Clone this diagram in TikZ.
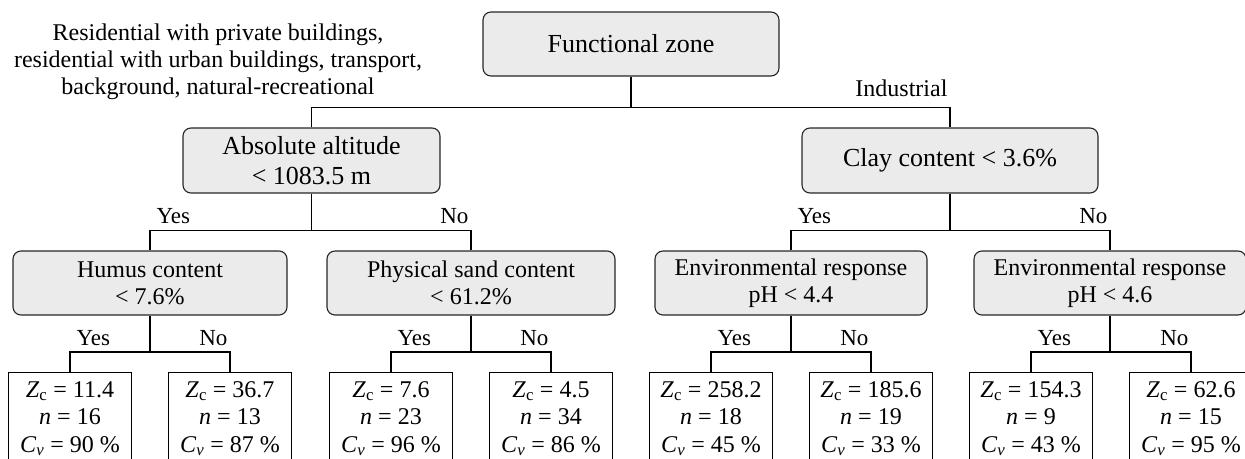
\documentclass[tikz,border=0pt]{standalone}
\usepackage{fontspec}
\setmainfont{Liberation Serif}
\usetikzlibrary{positioning}
\newcommand{\splitfont}{\fontsize{26}{30}\selectfont}
\newcommand{\subfont}{\fontsize{24}{27}\selectfont}
\newcommand{\leaffont}{\fontsize{24}{27.5}\selectfont}
\newcommand{\lblfont}{\fontsize{23}{26}\selectfont}
\tikzset{
  split/.style={draw=black!85, fill=black!8, rounded corners=8pt, align=center, inner sep=0pt, font=\splitfont},
  subsplit/.style={split, font=\subfont, minimum height=64pt},
  leaf/.style={draw=black, fill=white, anchor=north, align=center, minimum width=123pt, minimum height=92pt, inner sep=0pt, font=\leaffont},
  elbow/.style={to path={(\tikztostart.south) |- ([yshift=20pt]\tikztotarget.north) \tikztonodes -- (\tikztotarget.north)}},
  yes/.style={pos=1, anchor=base west, xshift=6pt, yshift=7pt, inner sep=0pt, font=\lblfont},
  no/.style={pos=1, anchor=base east, xshift=-2pt, yshift=7pt, inner sep=0pt, font=\lblfont},
}
\begin{document}
\begin{tikzpicture}[x=1pt, y=-1pt, line width=1.1pt]
  \useasboundingbox (0,0) rectangle (1245,458);

  \node[split, minimum width=296pt, minimum height=64pt] (root) at (631,44) {Functional zone};
  \node[font=\subfont, align=center] (rest) at (218,62)
    {Residential with private buildings,\\residential with urban buildings, transport,\\background, natural-recreational};

  \node[split, minimum width=257pt, minimum height=65pt] (alt) at (311.5,160.5) {Absolute altitude\\< 1083.5 m};
  \node[split, minimum width=296pt, minimum height=65pt] (clay) at (950,160.5) {Clay content < 3.6\%};

  \node[subsplit, minimum width=274pt] (humus) at (150,283) {Humus content\\< 7.6\%};
  \node[subsplit, minimum width=288pt] (sand) at (471,283) {Physical sand content\\< 61.2\%};
  \node[subsplit, minimum width=272pt] (envA) at (791,283) {Environmental response\\pH < 4.4};
  \node[subsplit, minimum width=272pt] (envB) at (1110,283) {Environmental response\\pH < 4.6};

  \node[leaf] (humusyes) at (70,372)   {\textit{Z}\textsubscript{c} = 11.4\\\textit{n} = 16\\\textit{C}\textsubscript{\textit{v}} = 90 \%};
  \node[leaf] (humusno)  at (230,372)  {\textit{Z}\textsubscript{c} = 36.7\\\textit{n} = 13\\\textit{C}\textsubscript{\textit{v}} = 87 \%};
  \node[leaf] (sandyes)  at (391,372)  {\textit{Z}\textsubscript{c} = 7.6\\\textit{n} = 23\\\textit{C}\textsubscript{\textit{v}} = 96 \%};
  \node[leaf] (sandno)   at (551,372)  {\textit{Z}\textsubscript{c} = 4.5\\\textit{n} = 34\\\textit{C}\textsubscript{\textit{v}} = 86 \%};
  \node[leaf] (envAyes)  at (711,372)  {\textit{Z}\textsubscript{c} = 258.2\\\textit{n} = 18\\\textit{C}\textsubscript{\textit{v}} = 45 \%};
  \node[leaf] (envAno)   at (871,372)  {\textit{Z}\textsubscript{c} = 185.6\\\textit{n} = 19\\\textit{C}\textsubscript{\textit{v}} = 33 \%};
  \node[leaf] (envByes)  at (1031,372) {\textit{Z}\textsubscript{c} = 154.3\\\textit{n} = 9\\\textit{C}\textsubscript{\textit{v}} = 43 \%};
  \node[leaf] (envBno)   at (1191,372) {\textit{Z}\textsubscript{c} = 62.6\\\textit{n} = 15\\\textit{C}\textsubscript{\textit{v}} = 95 \%};

  \draw (root)  edge[elbow] (alt)
        (root)  edge[elbow] node[no, yshift=4pt, font=\subfont] {Industrial} (clay)
        (alt)   edge[elbow] node[yes] {Yes} (humus)
        (alt)   edge[elbow] node[no]  {No}  (sand)
        (clay)  edge[elbow] node[yes] {Yes} (envA)
        (clay)  edge[elbow] node[no]  {No}  (envB)
        (humus) edge[elbow] node[yes] {Yes} (humusyes)
        (humus) edge[elbow] node[no]  {No}  (humusno)
        (sand)  edge[elbow] node[yes] {Yes} (sandyes)
        (sand)  edge[elbow] node[no]  {No}  (sandno)
        (envA)  edge[elbow] node[yes] {Yes} (envAyes)
        (envA)  edge[elbow] node[no]  {No}  (envAno)
        (envB)  edge[elbow] node[yes] {Yes} (envByes)
        (envB)  edge[elbow] node[no]  {No}  (envBno);
\end{tikzpicture}
\end{document}
